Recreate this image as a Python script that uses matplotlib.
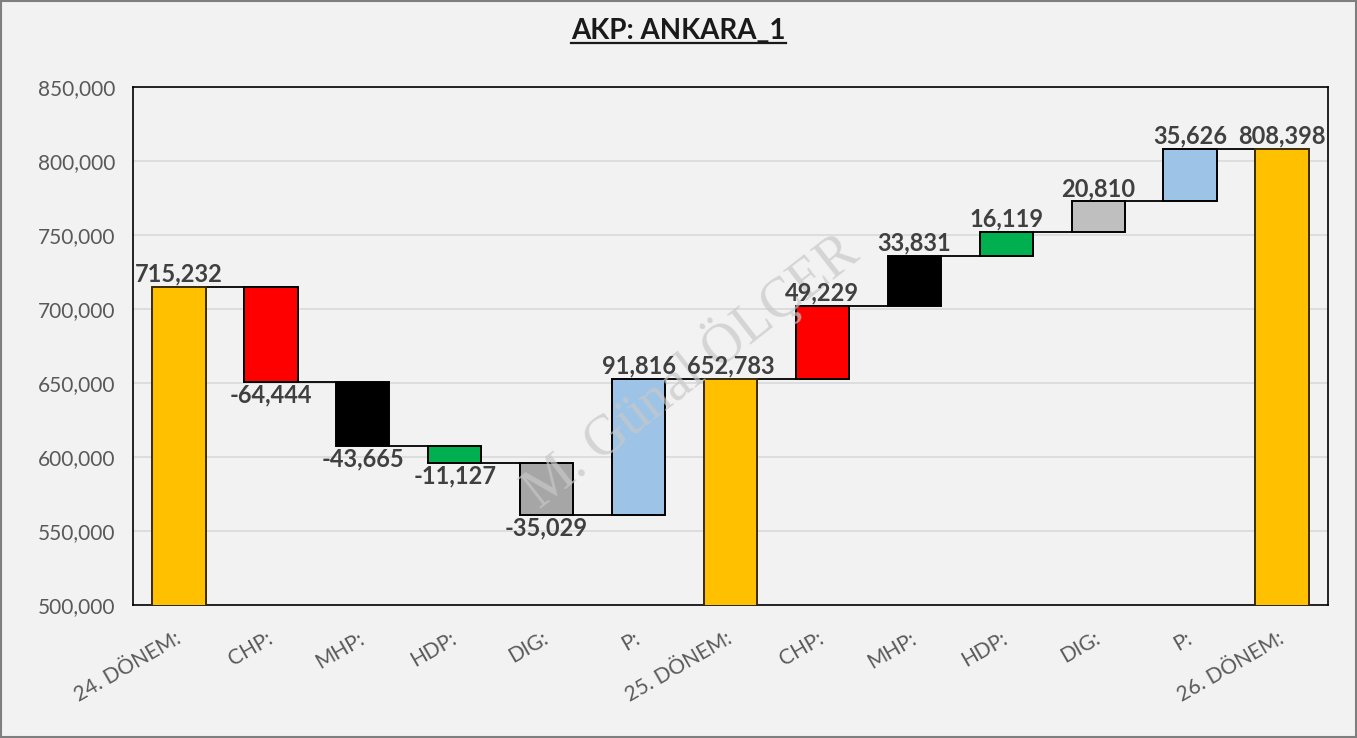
import matplotlib
matplotlib.use("Agg")
import matplotlib.pyplot as plt
from matplotlib.lines import Line2D
from matplotlib.patches import Rectangle
from matplotlib.ticker import FuncFormatter, MultipleLocator

# ── data ────────────────────────────────────────────────────────────────────
categories = ["24. DÖNEM:", "CHP:", "MHP:", "HDP:", "DIG:", "P:", "25. DÖNEM:",
              "CHP:", "MHP:", "HDP:", "DIG:", "P:", "26. DÖNEM:"]
values = [715232, -64444, -43665, -11127, -35029, 91816, 652783,
          49229, 33831, 16119, 20810, 35626, 808398]
is_total = [True, False, False, False, False, False, True,
            False, False, False, False, False, True]
bar_colors = ["#FFC000", "#FF0000", "#000000", "#00B050", "#A6A6A6", "#9DC3E6", "#FFC000",
              "#FF0000", "#000000", "#00B050", "#BFBFBF", "#9DC3E6", "#FFC000"]

BG = "#F2F2F2"
TXT = "#404040"
TICK = "#595959"
WIDTH = 0.58
FONT = "Lato"

fig = plt.figure(figsize=(13.57, 7.38), dpi=100, facecolor=BG)
ax = fig.add_axes([0.098, 0.1802, 0.8806, 0.7018], facecolor=BG)

# running totals -> bar bottoms/tops
bottoms, tops, levels = [], [], []
level = 0
for v, tot in zip(values, is_total):
    if tot:
        lo, hi = 0, v
        level = v
    else:
        lo, hi = sorted((level, level + v))
        level += v
    bottoms.append(lo)
    tops.append(hi)
    levels.append(level)

for i, (lo, hi, c, tot) in enumerate(zip(bottoms, tops, bar_colors, is_total)):
    ax.bar(i, hi - lo, bottom=lo, width=WIDTH, color=c,
           edgecolor="#3A2A00" if tot else "black", linewidth=1.4, zorder=3)

# connectors
for i in range(len(values) - 1):
    ax.hlines(levels[i], i + WIDTH / 2, i + 1 - WIDTH / 2, color="black", lw=1.3, zorder=2)

# data labels
for i, (v, lo, hi) in enumerate(zip(values, bottoms, tops)):
    if v >= 0:
        ax.annotate(f"{v:,}", (i, hi), xytext=(0, 1), textcoords="offset points",
                    ha="center", va="bottom", fontsize=17, fontweight="bold",
                    color=TXT, family=FONT, zorder=5)
    else:
        ax.annotate(f"{v:,}", (i, lo), xytext=(0, -1), textcoords="offset points",
                    ha="center", va="top", fontsize=17, fontweight="bold",
                    color=TXT, family=FONT, zorder=5)

ax.set_xlim(-0.5, len(values) - 0.5)
ax.set_ylim(500000, 850000)
ax.yaxis.set_major_locator(MultipleLocator(50000))
ax.yaxis.set_major_formatter(FuncFormatter(lambda v, _: f"{v:,.0f}"))
ax.yaxis.grid(True, color="#D9D9D9", lw=1.2)
ax.set_axisbelow(True)
for s in ax.spines.values():
    s.set_color("black")
    s.set_linewidth(1.2)

ax.set_xticks(range(len(categories)))
ax.set_xticklabels(categories)
ax.tick_params(axis="both", length=0)
ax.tick_params(axis="y", pad=13, labelsize=15, labelcolor=TICK)
ax.tick_params(axis="x", pad=23, labelsize=15, labelcolor=TICK)
for lab in ax.get_yticklabels():
    lab.set_family(FONT)
for lab in ax.get_xticklabels():
    lab.set_family(FONT)
    lab.set_rotation(30)
    lab.set_ha("right")
    lab.set_va("center")
    lab.set_rotation_mode("anchor")

# watermark
ax.text(0.466, 0.454, "M. Günal ÖLÇER", transform=ax.transAxes, rotation=38,
        ha="center", va="center", fontsize=40, family="Liberation Serif",
        color="#C8C8C8", alpha=0.7, zorder=4)

# title with underline
title = fig.text(0.5, 0.958, "AKP: ANKARA_1", ha="center", va="center",
                 fontsize=20, fontweight="bold", color="#1A1A1A", family=FONT)
fig.canvas.draw()
bb = title.get_window_extent().transformed(fig.transFigure.inverted())
fig.add_artist(Line2D([bb.x0, bb.x1], [bb.y0 + 0.002, bb.y0 + 0.002],
                      transform=fig.transFigure, color="#1A1A1A", lw=1.6))

# outer frame
fig.add_artist(Rectangle((0.001, 0.001), 0.998, 0.997, transform=fig.transFigure,
                         fill=False, edgecolor="#7F7F7F", lw=1.5))

fig.savefig("out.png", dpi=100, facecolor=BG)
